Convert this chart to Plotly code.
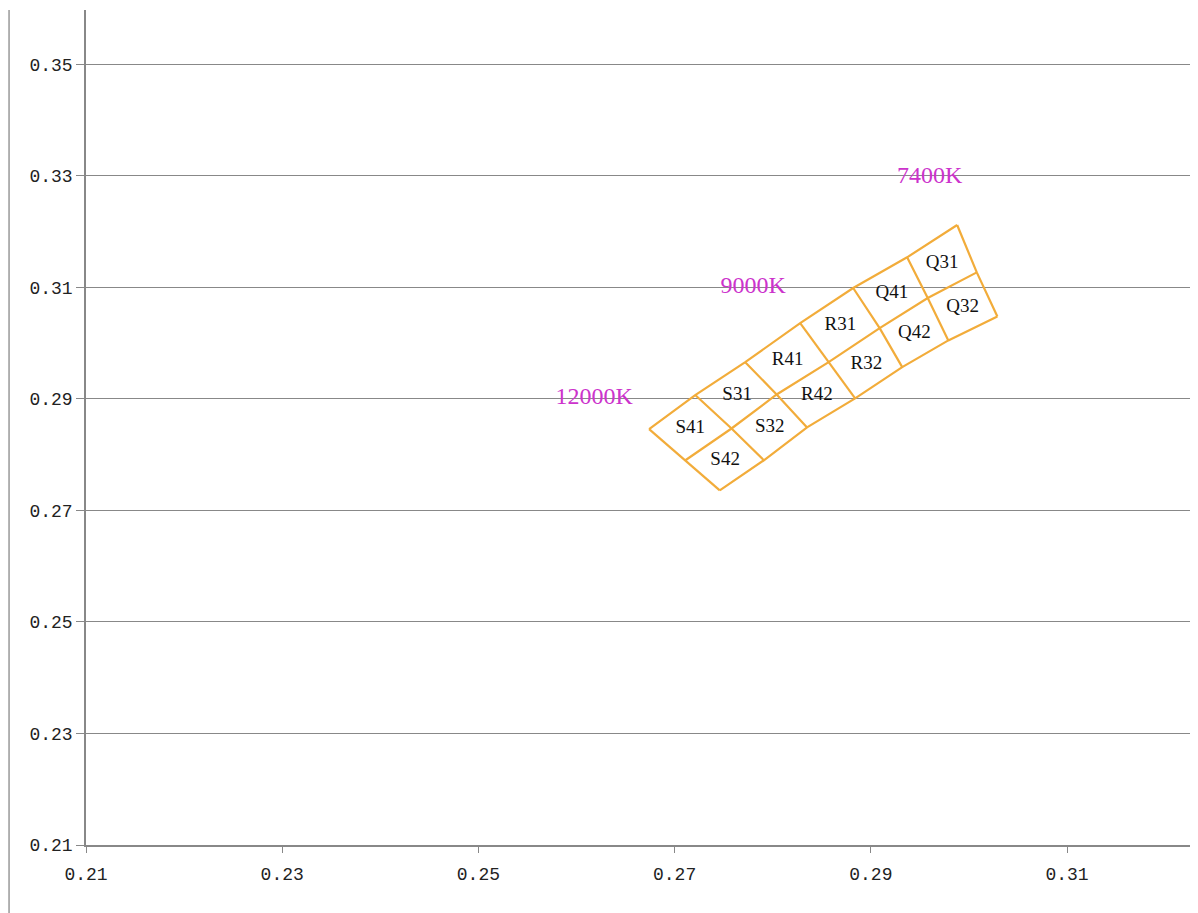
import plotly.graph_objects as go

# Bin grid vertices (CIE x, y) along 7 cross lines: top, middle and bottom rows
top_x = [0.2674, 0.2721, 0.2772, 0.2828, 0.2882, 0.2937, 0.2988]
top_y = [0.2846, 0.2907, 0.2966, 0.3036, 0.3099, 0.3154, 0.3212]
mid_x = [0.2711, 0.2758, 0.2804, 0.2857, 0.2909, 0.2958, 0.3008]
mid_y = [0.2790, 0.2847, 0.2908, 0.2966, 0.3027, 0.3081, 0.3127]
bot_x = [0.2746, 0.2791, 0.2835, 0.2884, 0.2932, 0.2979, 0.3029]
bot_y = [0.2736, 0.2790, 0.2849, 0.2901, 0.2957, 0.3005, 0.3048]

upper_labels = ["S41", "S31", "R41", "R31", "Q41", "Q31"]
lower_labels = ["S42", "S32", "R42", "R32", "Q42", "Q32"]

cct_labels = ["7400K", "9000K", "12000K"]
cct_x = [0.2960, 0.2780, 0.2618]
cct_y = [0.3298, 0.3100, 0.2902]

x_ticks = [0.21, 0.23, 0.25, 0.27, 0.29, 0.31]
y_ticks = [0.21, 0.23, 0.25, 0.27, 0.29, 0.31, 0.33, 0.35]

ORANGE = "#f2ac3a"

fig = go.Figure()

# long lines
for xs, ys in [(top_x, top_y), (mid_x, mid_y), (bot_x, bot_y)]:
    fig.add_trace(go.Scatter(x=xs, y=ys, mode="lines",
                             line=dict(color=ORANGE, width=2.2),
                             hoverinfo="skip", showlegend=False))
# cross lines
for i in range(len(top_x)):
    fig.add_trace(go.Scatter(x=[top_x[i], mid_x[i], bot_x[i]],
                             y=[top_y[i], mid_y[i], bot_y[i]], mode="lines",
                             line=dict(color=ORANGE, width=2.2),
                             hoverinfo="skip", showlegend=False))

# cell labels at cell centroids
lx, ly, lt = [], [], []
for i in range(len(upper_labels)):
    lx.append((top_x[i] + top_x[i + 1] + mid_x[i] + mid_x[i + 1]) / 4)
    ly.append((top_y[i] + top_y[i + 1] + mid_y[i] + mid_y[i + 1]) / 4)
    lt.append(upper_labels[i])
    lx.append((mid_x[i] + mid_x[i + 1] + bot_x[i] + bot_x[i + 1]) / 4)
    ly.append((mid_y[i] + mid_y[i + 1] + bot_y[i] + bot_y[i + 1]) / 4)
    lt.append(lower_labels[i])
fig.add_trace(go.Scatter(x=lx, y=ly, mode="text", text=lt,
                         textfont=dict(family="Liberation Serif", size=19, color="#111111"),
                         hoverinfo="skip", showlegend=False))

fig.add_trace(go.Scatter(x=cct_x, y=cct_y, mode="text", text=cct_labels,
                         textfont=dict(family="Liberation Serif", size=24, color="#cc33cc"),
                         hoverinfo="skip", showlegend=False))

# far-left decorative line
fig.add_shape(type="line", xref="paper", yref="paper", x0=-0.0692, x1=-0.0692,
              y0=-0.09, y1=1.0, line=dict(color="#999999", width=1.5))

fig.update_layout(
    width=1190, height=905,
    margin=dict(l=78, r=0, t=2, b=68),
    plot_bgcolor="white", paper_bgcolor="white",
    xaxis=dict(range=[0.21, 0.32335], tickvals=x_ticks, ticktext=[f"{v:.2f}" for v in x_ticks],
               showgrid=False, zeroline=False, showline=True, linecolor="#888888", linewidth=1.5,
               ticks="outside", ticklen=6, tickcolor="#888888", ticklabelstandoff=6,
               tickfont=dict(family="Liberation Mono", size=18, color="#222222")),
    yaxis=dict(range=[0.21, 0.35976], tickvals=y_ticks, ticktext=[f"{v:.2f}" for v in y_ticks],
               showgrid=True, gridcolor="#888888", gridwidth=1.2, zeroline=False,
               showline=True, linecolor="#888888", linewidth=1.5,
               ticks="outside", ticklen=8, tickcolor="#888888",
               tickfont=dict(family="Liberation Mono", size=18, color="#222222")),
)

fig.write_html("out.html")
